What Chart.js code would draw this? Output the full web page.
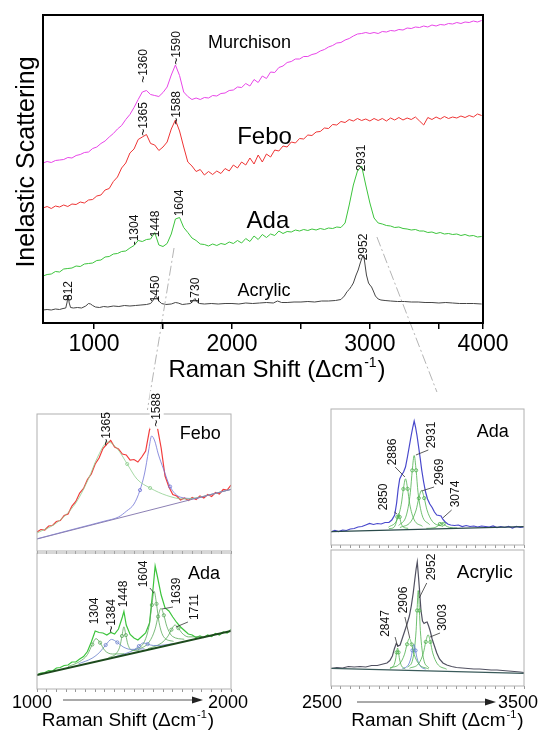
<!DOCTYPE html>
<html><head><meta charset="utf-8">
<script src="https://cdn.jsdelivr.net/npm/chart.js@4.4.1/dist/chart.umd.min.js"></script>
<style>
html,body{margin:0;padding:0;background:#fff;}
body{width:542px;height:730px;position:relative;overflow:hidden;}
canvas{position:absolute;}
</style></head><body>
<canvas id="main" width="542" height="412" style="left:0;top:0"></canvas>
<canvas id="feboInset" width="250" height="167" style="left:0;top:388px"></canvas>
<canvas id="adaLInset" width="250" height="182" style="left:0;top:548px"></canvas>
<canvas id="adaRInset" width="262" height="160" style="left:280px;top:390px"></canvas>
<canvas id="acrRInset" width="262" height="184" style="left:280px;top:546px"></canvas>
<script>
const FONT = '"Liberation Sans", Arial, Helvetica, sans-serif';

// ---------- main chart data ----------
const mainTickValues = [1000,1500,2000,2500,3000,3500,3820];
const mainTickText = ['1000','','2000','','3000','','4000'];
const mainShift = [630,660,690,720,750,780,810,840,870,900,
930,960,990,1020,1050,1080,1110,1140,1170,1200,
1230,1260,1290,1320,1350,1380,1410,1440,1470,1500,
1530,1560,1590,1620,1650,1680,1710,1740,1770,1800,
1830,1860,1890,1920,1950,1980,2010,2040,2070,2100,
2130,2160,2190,2220,2250,2280,2310,2340,2370,2400,
2430,2460,2490,2520,2550,2580,2610,2640,2670,2700,
2730,2760,2790,2820,2850,2880,2910,2940,2970,3000,
3030,3060,3090,3120,3150,3180,3210,3240,3270,3300,
3330,3360,3390,3420,3450,3480,3510,3540,3570,3600,
3630,3660,3690,3720,3750,3780,3810];
const murchisonIntensity = [160,161.5,160.5,162.5,163,163.5,165.5,165,167.5,168.5,
170.5,171,174.5,176,179.5,182,186,189.5,194,197.5,
203.5,208.5,215.5,223.5,231,232.5,228.5,227.5,226.5,230.5,
236,248,258,247.5,231,226.5,223.5,225,223.5,225.5,
225,227.5,227,229.5,230,232.5,233,236,235.5,239.5,
237,243.5,240.5,247,244.5,251,250.5,255.5,257,260.5,
261.5,264,264,266.5,266.5,268.5,269.5,272,273.5,276,
277.5,280,280.5,283,284.5,287,289,289.5,290.5,289.5,
290.5,289.5,291.5,291,292.5,292,293.5,293,295,294.5,
296,295.5,297,296,298,297,298.5,298,299.5,299,
300.5,299.5,301,300.5,302,301,302.5];
const feboIntensity = [115,116.5,114.5,117,116,118,116.5,119,118.5,121,
120,123,123.5,127,128,133,134.5,141.5,146,155,
160,170,174,183.5,186,188.5,179.5,178,172.5,176,
181,194,203,192,176,161,157,151.5,153.5,148,
151.5,148.5,152,149.5,154.5,152,158,155,161,158,
165,159,168,161,169,166,173,172,177,176,
181,180,184.5,184,188,187.5,191,191.5,195,194.5,
198.5,198,201.5,200.5,203.5,202,204.5,202.5,204,202,
204.5,202.5,204.5,202,205,203,205.5,203,205,203.5,
206,202,198,205.5,203.5,206,204,206.5,204.5,206,
205,207,205.5,207.5,206,209,207.5];
const adaIntensity = [47,48.5,49,51.5,51,54,54.5,55,57,56.5,
59,59.5,60,62.5,63,66,66.5,69,69.5,71.5,
72,75,77.5,82.5,81.5,83.5,84,90.5,78,76.5,
79.5,89,104,105.5,95.5,90.5,85,82.5,79,78.5,
77,79,77.5,79.5,78.5,81,79.5,82.5,80,84.5,
81.5,87,83.5,88.5,85.5,89,87.5,92,89.5,91.5,
91,93,92,93.5,92.5,94,93,94.5,93.5,95,
94.5,96,95.5,100,118,138,152,157,138,120,
105,100,99,97.5,97,95.5,96,94.5,94,93,
93.5,92,92,90.5,91,89.5,90.5,89,89.5,88.5,
89,87.5,88.5,87,87.5,86,86.5];
const acrylicShift = [630,660,690,720,750,775,795,805,812,820,
830,850,880,910,940,960,975,990,1010,1040,
1070,1100,1140,1180,1220,1260,1300,1340,1380,1410,
1430,1445,1455,1470,1490,1520,1560,1590,1610,1640,
1670,1700,1718,1732,1745,1765,1800,1850,1900,1950,
2000,2050,2100,2150,2200,2250,2300,2330,2360,2400,
2450,2500,2550,2600,2650,2700,2750,2790,2815,2835,
2850,2865,2880,2900,2915,2930,2945,2955,2965,2975,
2990,3000,3012,3025,3040,3060,3080,3110,3150,3200,
3250,3300,3350,3400,3450,3500,3550,3600,3650,3700,
3750,3810];
const acrylicIntensity = [13,13.5,13,14,13.5,14.5,15,21,28,20,
15.5,15,15.5,15,17,19.5,19,17.5,16,15.5,
16.5,16,17,16.5,17.5,17,17.5,18,18.5,19.5,
23,27,26,22,19.5,18.5,19,20.5,20,18.5,
19,19.5,22.5,24.5,21.5,19.5,19,19.5,19,19.5,
19.5,19,20,19.5,20,20.5,20,22,20.5,20.5,
21,21,21.5,21,22,22,22.5,23.5,27,31.5,
33.5,36.5,40,48,53,60,66,68,58,48,
40,38,36,32,27,24,23,22.5,22,21.5,
21.5,21,21,20.5,20.5,20,20.5,20,19.5,19.5,
19.5,19];

// ---------- left insets (1000-2000) ----------
const leftInsetTicks = [1000,1050,1100,1150,1200,1250,1300,1350,1400,1450,1500,1550,1600,1650,1700,1750,1800,1850,1900,1950,2000];
const feboInsetShift = [1000,1020,1040,1060,1080,1100,1120,1140,1160,1180,1200,1220,1240,1260,1280,1300,1320,1340,1360,1380,1400,1420,1440,1460,1480,1500,1520,1540,1560,1580,1600,1620,1640,1660,1680,1700,1720,1740,1760,1780,1800,1820,1840,1860,1880,1900,1920,1940,1960,1980,2000];
const feboInsetIntensity = [19,21.5,21,25,25.5,29.5,30.5,35.5,37,45,49.5,58,62.5,71.5,77,87,93,102.5,107,110.5,104,102,97,96,91,91.5,89,94,100,121,131,124,103,75,64,56.5,55,51,53,50.5,53.5,51.5,55,53,56.5,54.5,58.5,57,61.5,61,66];
const feboDShift = [1000,1100,1200,1265,1315,1365,1415,1465,1515,1583,1669,1755,1841,2000];
const feboDIntensity = [18,28,48,72,95,109,102,87,72,63,55.5,52,54,61.7];
const feboGShift = [1000,1200,1350,1420,1462,1500,1531,1555,1575,1591,1607,1625,1652,1686,1738,1807,1900,2000];
const feboGIntensity = [12.2,22.4,30,34,40,47,60.9,78,100,115,110,97,82,64.4,53.9,52.5,56.8,61.6];
const feboBaseShift = [1000,2000];
const feboBaseIntensity = [12,61.6];

const adaLShift = [1000,1020,1040,1060,1080,1100,1120,1140,1160,1180,1200,1220,1240,1260,1280,1300,1320,1340,1360,1380,1400,1420,1440,1448,1460,1480,1500,1520,1540,1560,1580,1600,1609,1620,1640,1660,1680,1700,1720,1740,1760,1780,1800,1820,1840,1860,1880,1900,1920,1940,1960,1980,2000];
const adaLIntensity = [14,16,16.5,18.5,18,21,21.5,23.5,24,27,27,30,32.5,37.5,47,58,56.5,56,54,56.5,55,60,72,77.5,64,54.5,51,49,52.5,56,66,104,123,113,94,81,78,72,66.5,62,58.5,55,54,51.5,53,51.5,54,52.5,55.5,54,57,56,59.5];
const adaLBaseShift = [1000,2000];
const adaLBaseIntensity = [14,58];
const c1304Shift = [1160,1220,1260,1285,1304,1325,1350,1390,1450];
const c1304Intensity = [22.4,27.5,34.4,44.5,50.4,46.3,38.4,35,35.2];
const c1384Shift = [1214,1284,1324,1354,1384,1414,1444,1484,1554];
const c1384Intensity = [25.2,30.8,36.9,44,49.6,46.6,42.1,39.6,40.2];
const c1448Shift = [1368,1408,1428,1438,1448,1458,1468,1488,1528];
const c1448Intensity = [31.2,35.4,43.1,53,62.2,53.9,44.9,38.9,38.2];
const c1545Shift = [1400,1460,1500,1525,1548,1570,1600,1640,1700];
const c1545Intensity = [32.1,35.7,39.1,42.9,46.1,44.9,43.5,43.7,45.3];
const c1604Shift = [1504,1554,1579,1592,1604,1616,1629,1654,1704];
const c1604Intensity = [38.8,47.5,64.5,84,97.6,85.1,66.7,51.9,47.6];
const c1639Shift = [1519,1579,1609,1624,1639,1654,1669,1699,1759];
const c1639Intensity = [39.1,47.2,60.1,72.4,80.7,73.7,62.7,52.5,49.7];
const c1711Shift = [1571,1641,1676,1693,1711,1729,1746,1781,1851];
const c1711Intensity = [40.2,45.9,53.1,59.3,64,60.9,56.2,52.1,52.5];

// ---------- right insets (2500-3500) ----------
const rightInsetTicks = [2500,2550,2600,2650,2700,2750,2800,2850,2900,2950,3000,3050,3100,3150,3200,3250,3300,3350,3400,3450,3500];
const adaRShift = [2500,2520,2540,2560,2580,2600,2620,2640,2660,2680,2700,2720,2740,2760,2780,2800,2815,2830,2840,2848,2856,2866,2876,2886,2896,2906,2916,2924,2931,2938,2946,2954,2962,2970,2980,2990,3000,3012,3024,3036,3048,3060,3070,3080,3092,3105,3120,3140,3160,3180,3200,3220,3240,3260,3280,3300,3320,3340,3360,3380,3400,3420,3440,3460,3480,3500];
const adaRIntensity = [13,14.5,13.5,15,14.5,16,16.5,18,18.5,20,21.5,20.5,21.5,21,22.5,22.5,25,30,42,56,66,70,73,78,88,99,110,118,124,118,109,98,87,75,63,53,46,41,37.5,33,30,29.5,29,25.5,23,21,20,19.5,20,18.5,19.5,18.5,19,18,19,18.5,18,19,17.5,18.5,17.5,18.5,17,18.5,17.5,18];
const adaRBaseShift = [2500,3500];
const adaRBaseIntensity = [13.3,18.3];
const c2850Shift = [2800,2825,2838,2844,2850,2856,2862,2875,2900];
const c2850Intensity = [16.3,17.5,22.5,28,31.5,28,22.5,18,16.6];
const c2886Shift = [2798,2842,2864,2875,2886,2897,2908,2930,2974];
const c2886Intensity = [17.8,25.2,40.6,56,66.2,56.1,40.8,25.6,18.7];
const c2931Shift = [2851,2891,2911,2921,2931,2941,2951,2971,3011];
const c2931Intensity = [19.5,30.1,52.4,74.6,89.5,74.7,52.6,30.5,20.3];
const c2969Shift = [2857,2913,2941,2955,2969,2983,2997,3025,3081];
const c2969Intensity = [17.4,23.2,35,46.8,54.6,46.9,35.3,23.7,18.5];
const c3074Shift = [2994,3034,3054,3064,3074,3084,3094,3114,3154];
const c3074Intensity = [16.6,17.2,19.1,21,22.2,21.1,19.3,17.6,17];

const acrRShift = [2500,2530,2560,2590,2620,2650,2680,2710,2740,2770,2790,2805,2818,2828,2838,2848,2858,2870,2882,2894,2906,2916,2926,2934,2941,2947,2953,2959,2966,2974,2982,2990,2998,3006,3014,3024,3036,3048,3062,3080,3100,3125,3150,3180,3210,3240,3270,3300,3330,3360,3390,3420,3450,3480,3500];
const acrRIntensity = [17.5,18.5,18,19.5,19,19.5,19,20.5,20.5,22,23,25.5,30,37,42.5,40,41,48,55,62,70,80,93,106,117,124,110,95,76,65,62.5,63.5,64,60,55,47,40,33,27,23,21,19.5,18.5,18,17.5,17,17,16.5,16,16,15.5,15,14.5,14,13.5];
const acrRBaseShift = [2500,3500];
const acrRBaseIntensity = [17.7,12.7];
const a2845Shift = [2805,2825,2835,2840,2845,2850,2855,2865,2885];
const a2845Intensity = [17.5,20.5,27,33.6,38,33.6,27,20.3,17.1];
const a2906Shift = [2806,2856,2881,2894,2906,2918,2931,2956,3006];
const a2906Intensity = [18.1,22.3,31.8,41.7,47.7,41.6,31.5,21.8,17.1];
const a2930Shift = [2870,2900,2915,2922,2930,2938,2945,2960,2990];
const a2930Intensity = [17.4,20.9,28.6,35.6,41.6,35.5,28.5,20.6,16.8];
const a2952Shift = [2897,2924,2941,2946,2952,2958,2963,2980,3007];
const a2952Intensity = [18.7,27.1,55.5,75.5,95.5,75.4,55.4,26.8,18.2];
const a3003Shift = [2907,2955,2979,2991,3003,3015,3027,3051,3099];
const a3003Intensity = [17.8,22.6,33.3,44.1,51.2,44,33.1,22.2,16.8];

// ---------- helpers ----------
function pts(xs, ys){ return xs.map((x,i)=>({x:x, y:ys[i]})); }
function spectrum(xs, ys, color, width){
  return {data:pts(xs,ys), borderColor:color, borderWidth:width, pointRadius:0, fill:false, tension:0};
}
function component(xs, ys, color, marks){
  const m = marks || [3,5];
  return {data:pts(xs,ys), borderColor:color, borderWidth:0.8, fill:false, tension:0,
    cubicInterpolationMode:'monotone',
    pointRadius: xs.map((_,i)=> m.indexOf(i)>=0 ? 1.6 : 0),
    pointBorderColor:color, pointBackgroundColor:'rgba(255,255,255,0)', pointBorderWidth:0.8};
}
function drawRamanTitle(ctx, cx, base, size){
  const main='Raman Shift (\u0394cm', sup='-1', close=')';
  ctx.save(); ctx.fillStyle='#000'; ctx.textBaseline='alphabetic'; ctx.textAlign='left';
  ctx.font=size+'px '+FONT; const w1=ctx.measureText(main).width, w3=ctx.measureText(close).width;
  const ss=Math.round(size*0.6); ctx.font=ss+'px '+FONT; const w2=ctx.measureText(sup).width;
  const x0=cx-(w1+w2+w3+2)/2;
  ctx.font=size+'px '+FONT; ctx.fillText(main,x0,base);
  ctx.font=ss+'px '+FONT; ctx.fillText(sup,x0+w1+1,base-size*0.42);
  ctx.font=size+'px '+FONT; ctx.fillText(close,x0+w1+w2+2,base);
  ctx.restore();
}
function annotPlugin(cfg){
  return {id:'annot', afterDraw(chart){
    const ctx=chart.ctx, a=chart.chartArea, x=chart.scales.x, y=chart.scales.y;
    ctx.save();
    if(cfg.pre) cfg.pre(chart, ctx);
    ctx.strokeStyle=cfg.frameColor; ctx.lineWidth=cfg.frameWidth;
    ctx.strokeRect(a.left, a.top, a.right-a.left, a.bottom-a.top);
    ctx.strokeStyle='#333'; ctx.lineWidth=0.8;
    (cfg.leaders||[]).forEach(l=>{ctx.beginPath();
      ctx.moveTo(x.getPixelForValue(l[0]), y.getPixelForValue(l[1]));
      ctx.lineTo(x.getPixelForValue(l[2]), y.getPixelForValue(l[3])); ctx.stroke();});
    (cfg.vlabels||[]).forEach(l=>{
      const px=x.getPixelForValue(l.x), py=y.getPixelForValue(l.y);
      ctx.save(); ctx.translate(px,py); ctx.rotate(-Math.PI/2);
      ctx.font=cfg.labelSize+'px '+FONT; ctx.textAlign='center'; ctx.textBaseline='middle';
      if(l.bg){const w=ctx.measureText(l.t).width; ctx.fillStyle='#fff'; ctx.fillRect(-w/2-2,-cfg.labelSize/2-1,w+4,cfg.labelSize+2);}
      ctx.fillStyle='#111'; ctx.fillText(l.t,0,0); ctx.restore();
    });
    ctx.fillStyle='#000';
    (cfg.names||[]).forEach(n=>{ctx.font=n.size+'px '+FONT; ctx.textAlign='center'; ctx.textBaseline='middle';
      ctx.fillText(n.t, x.getPixelForValue(n.x), y.getPixelForValue(n.y));});
    if(cfg.extra) cfg.extra(chart, ctx);
    ctx.restore();
  }};
}
function makeChart(id, o){
  return new Chart(document.getElementById(id), {
    type:'line',
    data:{datasets:o.datasets},
    options:{
      responsive:false, animation:false, devicePixelRatio:1,
      layout:{padding:o.padding},
      plugins:{legend:{display:false}, tooltip:{enabled:false}},
      scales:{
        x:{type:'linear', min:o.xmin, max:o.xmax,
          afterFit:(s)=>{s.height=o.axisHeight;},
          afterBuildTicks:(s)=>{s.ticks=o.tickValues.map(v=>({value:v}));},
          grid:{display:true, drawOnChartArea:false, drawTicks:true, tickLength:o.tickLength, color:o.tickColor, lineWidth:o.tickWidth},
          border:{display:false},
          ticks:o.ticks},
        y:{type:'linear', min:0, max:o.ymax, display:false}
      }
    },
    plugins:[annotPlugin(o.annot)]
  });
}

// ---------- main chart ----------
const guideLines = [[1580,75,1387,-87],[3051,86,3486,-69]];
makeChart('main', {
  xmin:630, xmax:3820, ymax:308, padding:{left:43, top:15, right:59, bottom:0}, axisHeight:89,
  tickValues:mainTickValues, tickLength:6, tickColor:'#000', tickWidth:1.5,
  ticks:{display:true, autoSkip:false, maxRotation:0, minRotation:0, padding:2, color:'#000',
    font:{size:23, family:FONT}, callback:(v)=>mainTickText[mainTickValues.indexOf(v)]},
  datasets:[
    spectrum(mainShift, murchisonIntensity, '#e845e8', 1),
    spectrum(mainShift, feboIntensity, '#ee3434', 1),
    spectrum(mainShift, adaIntensity, '#3cc43c', 1),
    spectrum(acrylicShift, acrylicIntensity, '#454545', 1)
  ],
  annot:{frameColor:'#000', frameWidth:2, labelSize:12,
    vlabels:[{t:'~1360',x:1359,y:257},{t:'~1590',x:1600,y:275},{t:'~1365',x:1359,y:204},{t:'~1588',x:1598,y:215},
      {t:'-1304',x:1297,y:93},{t:'1448',x:1447,y:99},{t:'1604',x:1623,y:120},{t:'2931',x:2939,y:165},
      {t:'812',x:819,y:32},{t:'1450',x:1449,y:34},{t:'1730',x:1735,y:32},{t:'2952',x:2957,y:76}],
    names:[{t:'Murchison',x:2127,y:280,size:18},{t:'Febo',x:2236,y:186,size:24},{t:'Ada',x:2261,y:102,size:24},{t:'Acrylic',x:2232,y:32,size:18}],
    pre:(chart, ctx)=>{
      const x=chart.scales.x, y=chart.scales.y;
      ctx.save(); ctx.strokeStyle='#b4b4b4'; ctx.lineWidth=1; ctx.setLineDash([10,3,2,3]);
      guideLines.forEach(g=>{ctx.beginPath(); ctx.moveTo(x.getPixelForValue(g[0]), y.getPixelForValue(g[1]));
        ctx.lineTo(x.getPixelForValue(g[2]), y.getPixelForValue(g[3])); ctx.stroke();});
      ctx.restore();
    },
    extra:(chart, ctx)=>{
      const a=chart.chartArea;
      ctx.save(); ctx.translate(a.left-9, (a.top+a.bottom)/2-7); ctx.rotate(-Math.PI/2);
      ctx.font='25px '+FONT; ctx.textAlign='center'; ctx.textBaseline='alphabetic'; ctx.fillStyle='#000';
      ctx.fillText('Inelastic Scattering',0,0); ctx.restore();
      drawRamanTitle(ctx, (a.left+a.right)/2+14, a.bottom+54, 24);
    }}
});

// ---------- inset axis decoration ----------
function insetAxis(lo, hi, opt){
  return (chart, ctx)=>{
    const a=chart.chartArea, x=chart.scales.x;
    const xl=x.getPixelForValue(x.min), xr=x.getPixelForValue(x.max);
    ctx.fillStyle='#000'; ctx.font='18px '+FONT; ctx.textAlign='center'; ctx.textBaseline='middle';
    ctx.fillText(lo, xl+opt.loDx, a.bottom+opt.labelDy); ctx.fillText(hi, xr+opt.hiDx, a.bottom+opt.labelDy);
    const ay=a.bottom+opt.arrowDy;
    ctx.strokeStyle='#555'; ctx.lineWidth=1; ctx.beginPath(); ctx.moveTo(xl+26, ay); ctx.lineTo(xr-36, ay); ctx.stroke();
    ctx.fillStyle='#222'; ctx.beginPath(); ctx.moveTo(xr-28, ay); ctx.lineTo(xr-39, ay-3.5); ctx.lineTo(xr-39, ay+3.5); ctx.closePath(); ctx.fill();
    drawRamanTitle(ctx, (a.left+a.right)/2+opt.titleDx, a.bottom+opt.titleDy, 19);
  };
}
const insetTicks = {display:false};

makeChart('feboInset', {
  xmin:1000, xmax:2000, ymax:137, padding:{left:37, top:26, right:19, bottom:0}, axisHeight:4,
  tickValues:leftInsetTicks, tickLength:3, tickColor:'#999', tickWidth:1, ticks:insetTicks,
  datasets:[
    spectrum(feboBaseShift, feboBaseIntensity, '#8c80b4', 1),
    component(feboDShift, feboDIntensity, '#8fcf8f', [7,9]),
    component(feboGShift, feboGIntensity, '#7074d6', [6,13]),
    spectrum(feboInsetShift, feboInsetIntensity, '#f23c3c', 1.2)
  ],
  annot:{frameColor:'#b0b0b0', frameWidth:1, labelSize:12,
    vlabels:[{t:'~1365',x:1361,y:122},{t:'~1588',x:1617,y:141,bg:true}],
    names:[{t:'Febo',x:1842,y:117,size:18}]}
});

makeChart('adaLInset', {
  xmin:1000, xmax:2000, ymax:136, padding:{left:37, top:5, right:19, bottom:0}, axisHeight:41,
  tickValues:leftInsetTicks, tickLength:3, tickColor:'#999', tickWidth:1, ticks:insetTicks,
  datasets:[
    spectrum(adaLBaseShift, adaLBaseIntensity, '#1d4a1d', 2),
    component(c1304Shift, c1304Intensity, '#5aaa5a'),
    component(c1384Shift, c1384Intensity, '#6a80cc'),
    component(c1448Shift, c1448Intensity, '#5aaa5a'),
    component(c1545Shift, c1545Intensity, '#6a80cc'),
    component(c1604Shift, c1604Intensity, '#5aaa5a'),
    component(c1639Shift, c1639Intensity, '#5aaa5a'),
    component(c1711Shift, c1711Intensity, '#5aaa5a'),
    spectrum(adaLShift, adaLIntensity, '#3cc43c', 1.2)
  ],
  annot:{frameColor:'#b0b0b0', frameWidth:1, labelSize:12,
    vlabels:[{t:'1304',x:1299,y:78},{t:'~1384',x:1385,y:73},{t:'1448',x:1448,y:95},{t:'1604',x:1548,y:115},
      {t:'1639',x:1720,y:98},{t:'1711',x:1814,y:82}],
    leaders:[[1582,101,1603,96],[1701,82,1644,80],[1778,67,1716,62]],
    names:[{t:'Ada',x:1861,y:115,size:18}],
    extra:insetAxis('1000','2000',{loDx:-5, hiDx:-3, labelDy:14, arrowDy:11, titleDy:37, titleDx:-6})}
});

makeChart('adaRInset', {
  xmin:2500, xmax:3500, ymax:136, padding:{left:51, top:19, right:18, bottom:0}, axisHeight:5,
  tickValues:rightInsetTicks, tickLength:3, tickColor:'#999', tickWidth:1, ticks:insetTicks,
  datasets:[
    spectrum(adaRBaseShift, adaRBaseIntensity, '#2a4a4a', 1.2),
    component(c2850Shift, c2850Intensity, '#4cb04c'),
    component(c2886Shift, c2886Intensity, '#4cb04c'),
    component(c2931Shift, c2931Intensity, '#4cb04c'),
    component(c2969Shift, c2969Intensity, '#4cb04c'),
    component(c3074Shift, c3074Intensity, '#4cb04c'),
    spectrum(adaRShift, adaRIntensity, '#4848cc', 1.2)
  ],
  annot:{frameColor:'#b0b0b0', frameWidth:1, labelSize:12,
    vlabels:[{t:'2931',x:3022,y:110},{t:'2886',x:2820,y:93},{t:'2969',x:3065,y:73},{t:'2850',x:2775,y:48},{t:'3074',x:3146,y:51}],
    leaders:[[3004,95,2940,90],[2832,78,2883,68],[3034,58,2970,54],[2828,33,2842,31],[3125,35,3079,27]],
    names:[{t:'Ada',x:3338,y:113,size:18}]}
});

makeChart('acrRInset', {
  xmin:2500, xmax:3500, ymax:136, padding:{left:51, top:4, right:18, bottom:0}, axisHeight:44,
  tickValues:rightInsetTicks, tickLength:3, tickColor:'#999', tickWidth:1, ticks:insetTicks,
  datasets:[
    spectrum(acrRBaseShift, acrRBaseIntensity, '#3a5a5a', 1.2),
    component(a2845Shift, a2845Intensity, '#4cb04c'),
    component(a2906Shift, a2906Intensity, '#4cb04c'),
    component(a2930Shift, a2930Intensity, '#5a78d0'),
    component(a2952Shift, a2952Intensity, '#4cb04c'),
    component(a3003Shift, a3003Intensity, '#4cb04c'),
    spectrum(acrRShift, acrRIntensity, '#505060', 1.2)
  ],
  annot:{frameColor:'#b0b0b0', frameWidth:1, labelSize:12,
    vlabels:[{t:'2952',x:3022,y:119},{t:'2906',x:2875,y:86},{t:'2847',x:2785,y:62.5},{t:'3003',x:3079,y:68.5}],
    leaders:[[2996,103,2957,88],[2883,69,2908,48],[2832,49,2846,39],[3065,53,3013,49]],
    names:[{t:'Acrylic',x:3297,y:113,size:19}],
    extra:insetAxis('2500','3500',{loDx:-9, hiDx:-6, labelDy:17, arrowDy:16, titleDy:40, titleDx:10})}
});
</script>
</body></html>
